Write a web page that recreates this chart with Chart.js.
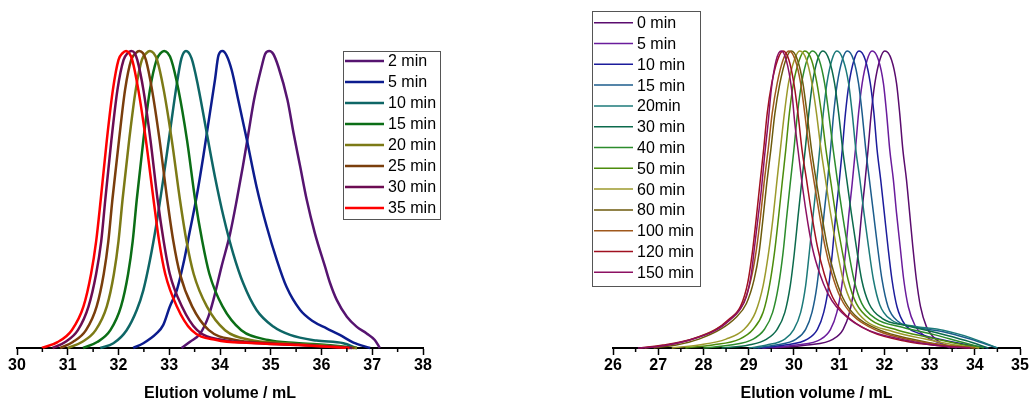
<!DOCTYPE html>
<html>
<head>
<meta charset="utf-8">
<script src="https://cdn.jsdelivr.net/npm/chart.js@4"></script>
<style>
  body { margin: 0; background: #fff; }
  #wrap { position: relative; width: 1030px; height: 403px; }
  canvas { position: absolute; top: 0; }
</style>
</head>
<body>
<div id="wrap">
  <canvas id="leftChart" width="520" height="403" style="left:0"></canvas>
  <canvas id="rightChart" width="510" height="403" style="left:520px"></canvas>
</div>
<script>
// left panel: elution volume (mL) vs normalised signal
const leftLabels = ['2 min', '5 min', '10 min', '15 min', '20 min', '25 min', '30 min', '35 min'];
const leftColors = ['#561470', '#0c1c8e', '#0e6666', '#0b6e16', '#7c7a16', '#7a3e0c', '#6c0c52', '#ff0000'];

const left2 = [[33.24,0],[33.41,0.021],[33.61,0.049],[33.77,0.105],[33.87,0.162],[34.03,0.274],[34.20,0.386],[34.33,0.498],[34.45,0.611],[34.56,0.723],[34.67,0.835],[34.82,0.947],[34.89,0.99],[34.97,1],[35.05,0.99],[35.15,0.947],[35.33,0.835],[35.45,0.723],[35.58,0.611],[35.71,0.498],[35.87,0.386],[36.07,0.274],[36.17,0.218],[36.30,0.162],[36.50,0.105],[36.69,0.072],[36.89,0.049],[37.05,0.027],[37.15,0]];
const left5 = [[32.29,0],[32.49,0.016],[32.75,0.049],[32.88,0.077],[33.01,0.139],[33.15,0.195],[33.28,0.285],[33.41,0.397],[33.54,0.51],[33.67,0.644],[33.80,0.79],[33.90,0.902],[33.97,0.985],[34.05,1],[34.13,0.985],[34.23,0.936],[34.36,0.835],[34.53,0.70],[34.72,0.543],[34.92,0.409],[35.12,0.296],[35.31,0.206],[35.58,0.128],[35.84,0.089],[36.10,0.066],[36.36,0.044],[36.63,0.018],[36.96,0]];
const left10 = [[31.64,0],[31.90,0.016],[32.16,0.06],[32.36,0.128],[32.49,0.195],[32.62,0.296],[32.75,0.42],[32.88,0.566],[33.01,0.723],[33.15,0.89],[33.24,0.975],[33.33,1],[33.44,0.975],[33.57,0.88],[33.74,0.723],[33.90,0.577],[34.07,0.442],[34.26,0.318],[34.46,0.217],[34.72,0.128],[35.05,0.072],[35.38,0.044],[35.90,0.025],[36.43,0.016],[36.69,0]];
const left15 = [[31.30,0],[31.58,0.02],[31.84,0.06],[32.05,0.14],[32.19,0.25],[32.28,0.36],[32.36,0.5],[32.49,0.70],[32.62,0.87],[32.75,0.97],[32.83,0.993],[32.90,1],[32.97,0.993],[33.04,0.97],[33.18,0.87],[33.35,0.70],[33.51,0.5],[33.65,0.36],[33.79,0.25],[34.05,0.14],[34.42,0.06],[34.95,0.027],[35.5,0.017],[36.1,0.01],[36.7,0]];
const left20 = [[31.0,0],[31.28,0.02],[31.55,0.06],[31.77,0.14],[31.91,0.25],[32.00,0.36],[32.08,0.5],[32.21,0.70],[32.34,0.87],[32.46,0.97],[32.55,0.993],[32.62,1],[32.69,0.993],[32.76,0.97],[32.89,0.87],[33.05,0.70],[33.21,0.5],[33.34,0.36],[33.48,0.25],[33.74,0.14],[34.1,0.06],[34.6,0.027],[35.2,0.017],[35.9,0.01],[36.7,0]];
const left25 = [[30.85,0],[31.10,0.02],[31.36,0.06],[31.57,0.14],[31.71,0.25],[31.80,0.36],[31.88,0.5],[32.01,0.70],[32.13,0.87],[32.25,0.97],[32.34,0.993],[32.41,1],[32.48,0.993],[32.54,0.97],[32.66,0.87],[32.81,0.70],[32.96,0.5],[33.08,0.36],[33.21,0.25],[33.45,0.14],[33.78,0.06],[34.3,0.027],[34.9,0.017],[35.7,0.01],[36.65,0]];
const left30 = [[30.70,0],[30.95,0.02],[31.20,0.06],[31.41,0.14],[31.56,0.25],[31.66,0.36],[31.74,0.5],[31.86,0.70],[31.98,0.87],[32.10,0.97],[32.18,0.993],[32.25,1],[32.32,0.993],[32.37,0.97],[32.49,0.87],[32.63,0.70],[32.77,0.5],[32.89,0.36],[33.01,0.25],[33.25,0.14],[33.55,0.06],[34.05,0.027],[34.7,0.017],[35.6,0.01],[36.6,0]];
const left35 = [[30.49,0],[30.80,0.02],[31.08,0.06],[31.31,0.14],[31.46,0.25],[31.56,0.36],[31.65,0.5],[31.77,0.70],[31.89,0.87],[32.00,0.97],[32.08,0.993],[32.15,1],[32.21,0.993],[32.27,0.97],[32.39,0.87],[32.54,0.70],[32.69,0.5],[32.80,0.36],[32.92,0.25],[33.15,0.14],[33.44,0.06],[33.93,0.027],[34.6,0.017],[35.55,0.01],[36.55,0]];
const leftSeries = [left2, left5, left10, left15, left20, left25, left30, left35];
const leftTicks = [30, 38];

// right panel
const rightLabels = ['0 min', '5 min', '10 min', '15 min', '20min', '30 min', '40 min', '50 min', '60 min', '80 min', '100 min', '120 min', '150 min'];
const rightColors = ['#5a0c6e', '#6a1c9c', '#1c1c9c', '#1c5c8c', '#1c7a7a', '#0c6a4c', '#2c8c2c', '#4c8c0c', '#9c9a2c', '#6c5a0c', '#a0581c', '#a01020', '#8c1062'];

const right0 = [[29.5,0],[30.3,0.01],[30.87,0.03],[31.09,0.063],[31.23,0.12],[31.34,0.21],[31.42,0.32],[31.49,0.44],[31.57,0.555],[31.64,0.667],[31.71,0.79],[31.79,0.891],[31.90,0.97],[32.01,1],[32.16,0.97],[32.27,0.891],[32.34,0.79],[32.41,0.667],[32.49,0.566],[32.56,0.454],[32.63,0.341],[32.71,0.229],[32.80,0.139],[32.93,0.072],[33.08,0.038],[33.3,0.012],[33.45,0]];
const right5 = [[29.3,0],[30.05,0.01],[30.6,0.03],[30.81,0.063],[30.95,0.12],[31.06,0.21],[31.14,0.32],[31.21,0.44],[31.29,0.555],[31.36,0.667],[31.43,0.79],[31.51,0.891],[31.62,0.97],[31.73,1],[31.87,0.97],[31.98,0.891],[32.05,0.79],[32.12,0.667],[32.20,0.566],[32.27,0.454],[32.35,0.341],[32.43,0.229],[32.53,0.139],[32.68,0.075],[32.88,0.042],[33.2,0.018],[33.6,0]];
const right10 = [[29.2,0],[29.8,0.01],[30.3,0.03],[30.52,0.063],[30.66,0.12],[30.77,0.21],[30.85,0.32],[30.92,0.44],[31.00,0.555],[31.07,0.667],[31.14,0.79],[31.22,0.891],[31.33,0.97],[31.44,1],[31.58,0.97],[31.69,0.891],[31.77,0.79],[31.84,0.667],[31.92,0.566],[32.00,0.454],[32.08,0.341],[32.17,0.229],[32.28,0.139],[32.45,0.08],[32.75,0.05],[33.2,0.03],[33.8,0.012],[34.3,0]];
const right15 = [[29.1,0],[29.6,0.01],[30.05,0.03],[30.26,0.063],[30.40,0.12],[30.51,0.21],[30.59,0.32],[30.66,0.44],[30.74,0.555],[30.81,0.667],[30.88,0.79],[30.96,0.891],[31.07,0.97],[31.18,1],[31.32,0.97],[31.43,0.891],[31.51,0.79],[31.59,0.667],[31.67,0.566],[31.76,0.454],[31.85,0.341],[31.95,0.229],[32.08,0.14],[32.3,0.09],[32.7,0.07],[33.3,0.055],[33.9,0.03],[34.5,0]];
const right20 = [[29.0,0],[29.4,0.01],[29.8,0.03],[30.0,0.063],[30.15,0.12],[30.26,0.21],[30.34,0.32],[30.42,0.44],[30.50,0.555],[30.57,0.667],[30.65,0.79],[30.73,0.891],[30.84,0.97],[30.95,1],[31.09,0.97],[31.21,0.891],[31.29,0.79],[31.37,0.667],[31.46,0.566],[31.55,0.454],[31.65,0.341],[31.76,0.229],[31.90,0.145],[32.15,0.095],[32.6,0.075],[33.3,0.06],[33.9,0.035],[34.5,0]];
const right30 = [[28.4,0],[29.0,0.01],[29.4,0.03],[29.63,0.063],[29.80,0.12],[29.92,0.21],[30.01,0.32],[30.09,0.44],[30.17,0.555],[30.25,0.667],[30.33,0.79],[30.41,0.891],[30.52,0.97],[30.64,1],[30.78,0.97],[30.90,0.891],[30.99,0.79],[31.08,0.667],[31.17,0.566],[31.27,0.454],[31.38,0.341],[31.50,0.229],[31.66,0.15],[31.95,0.1],[32.5,0.075],[33.2,0.05],[33.8,0.025],[34.3,0]];
const right40 = [[28.0,0],[28.6,0.01],[29.1,0.03],[29.35,0.063],[29.53,0.12],[29.66,0.21],[29.76,0.32],[29.84,0.44],[29.92,0.555],[30.00,0.667],[30.08,0.79],[30.17,0.891],[30.29,0.97],[30.41,1],[30.56,0.97],[30.68,0.891],[30.77,0.79],[30.87,0.667],[30.96,0.566],[31.07,0.454],[31.19,0.341],[31.33,0.229],[31.50,0.15],[31.8,0.1],[32.4,0.07],[33.1,0.045],[33.7,0.02],[34.2,0]];
const right50 = [[27.6,0],[28.2,0.01],[28.8,0.03],[29.1,0.063],[29.32,0.12],[29.46,0.21],[29.57,0.32],[29.66,0.44],[29.74,0.555],[29.82,0.667],[29.90,0.79],[29.99,0.891],[30.12,0.97],[30.24,1],[30.39,0.97],[30.51,0.891],[30.61,0.79],[30.71,0.667],[30.81,0.566],[30.92,0.454],[31.05,0.341],[31.20,0.229],[31.38,0.15],[31.7,0.095],[32.3,0.06],[33.0,0.035],[33.6,0.015],[34.1,0]];
const right60 = [[27.3,0],[27.9,0.01],[28.5,0.03],[28.9,0.063],[29.15,0.12],[29.32,0.21],[29.44,0.32],[29.54,0.44],[29.62,0.555],[29.70,0.667],[29.79,0.79],[29.88,0.891],[30.01,0.97],[30.13,1],[30.28,0.97],[30.40,0.891],[30.50,0.79],[30.60,0.667],[30.70,0.566],[30.81,0.454],[30.94,0.341],[31.09,0.229],[31.28,0.15],[31.6,0.09],[32.2,0.055],[32.9,0.03],[33.5,0.012],[34.1,0]];
const right80 = [[26.9,0],[27.4,0.01],[27.9,0.03],[28.4,0.065],[28.7,0.1],[28.95,0.15],[29.12,0.23],[29.23,0.32],[29.32,0.44],[29.40,0.555],[29.49,0.667],[29.58,0.79],[29.69,0.891],[29.82,0.97],[29.94,1],[30.08,0.97],[30.20,0.891],[30.29,0.79],[30.39,0.667],[30.49,0.566],[30.61,0.454],[30.74,0.341],[30.89,0.25],[31.08,0.17],[31.35,0.11],[31.9,0.06],[32.6,0.03],[33.3,0.01],[34.0,0]];
const right100 = [[26.7,0],[27.2,0.01],[27.75,0.03],[28.3,0.065],[28.62,0.1],[28.88,0.15],[29.05,0.23],[29.16,0.32],[29.26,0.44],[29.34,0.555],[29.43,0.667],[29.52,0.79],[29.63,0.891],[29.76,0.97],[29.89,1],[30.03,0.97],[30.15,0.891],[30.24,0.79],[30.34,0.667],[30.44,0.566],[30.56,0.454],[30.69,0.341],[30.84,0.25],[31.03,0.17],[31.3,0.11],[31.85,0.058],[32.55,0.028],[33.3,0.01],[34.0,0]];
const right120 = [[26.6,0],[27.1,0.01],[27.7,0.028],[28.25,0.06],[28.55,0.095],[28.82,0.14],[28.98,0.22],[29.08,0.32],[29.17,0.44],[29.25,0.555],[29.33,0.667],[29.41,0.79],[29.51,0.891],[29.64,0.97],[29.76,1],[29.89,0.97],[30.00,0.891],[30.09,0.79],[30.18,0.667],[30.28,0.566],[30.39,0.454],[30.52,0.341],[30.67,0.25],[30.86,0.17],[31.15,0.11],[31.7,0.055],[32.5,0.022],[33.2,0.008],[33.9,0]];
const right150 = [[26.55,0],[26.96,0.004],[27.70,0.027],[28.29,0.061],[28.58,0.094],[28.80,0.128],[28.95,0.173],[29.06,0.251],[29.13,0.341],[29.21,0.442],[29.28,0.532],[29.35,0.644],[29.43,0.757],[29.50,0.87],[29.61,0.97],[29.72,1],[29.83,0.97],[29.95,0.87],[30.02,0.757],[30.11,0.644],[30.20,0.532],[30.31,0.42],[30.42,0.33],[30.57,0.251],[30.75,0.184],[30.94,0.139],[31.5,0.07],[32.5,0.025],[33.3,0.006],[33.9,0]];
const rightSeries = [right0, right5, right10, right15, right20, right30, right40, right50, right60, right80, right100, right120, right150];
const rightTicks = [26, 35];

const FONT = "'Liberation Sans', Arial, sans-serif";

// short ticks half way between the labelled ones
const minorTicks = {
  id: 'minorTicks',
  afterDraw(chart) {
    const s = chart.scales.x;
    const ctx = chart.ctx;
    ctx.save();
    ctx.strokeStyle = '#000';
    ctx.lineWidth = 1.5;
    for (let v = s.min + 0.5; v < s.max; v += 1) {
      const px = s.getPixelForValue(v);
      ctx.beginPath();
      ctx.moveTo(px, s.top);
      ctx.lineTo(px, s.top + 4);
      ctx.stroke();
    }
    ctx.restore();
  }
};

// framed legend inside the plot like the original figure
const boxLegend = {
  id: 'boxLegend',
  afterDraw(chart, args, o) {
    const ctx = chart.ctx;
    ctx.save();
    ctx.fillStyle = '#fff';
    ctx.fillRect(o.x, o.y, o.w, o.h);
    ctx.strokeStyle = '#555';
    ctx.lineWidth = 1;
    ctx.strokeRect(o.x + 0.5, o.y + 0.5, o.w, o.h);
    ctx.font = '16px ' + FONT;
    ctx.textBaseline = 'middle';
    chart.data.datasets.forEach((ds, i) => {
      const y = o.y + o.first + i * o.rowH;
      ctx.strokeStyle = ds.borderColor;
      ctx.lineWidth = o.lineWidth;
      ctx.beginPath();
      ctx.moveTo(o.x + 2, y);
      ctx.lineTo(o.x + 41, y);
      ctx.stroke();
      ctx.fillStyle = '#000';
      ctx.fillText(ds.label, o.x + 45, y + 1);
    });
    ctx.restore();
  }
};

function makeChart(id, labels, colors, series, range, lineWidth, padding, legend) {
  const ctx = document.getElementById(id).getContext('2d');
  return new Chart(ctx, {
    type: 'line',
    data: {
      datasets: series.map((pts, i) => ({
        label: labels[i],
        data: pts.map(p => ({ x: p[0], y: p[1] })),
        borderColor: colors[i],
        borderWidth: lineWidth,
        pointRadius: 0,
        cubicInterpolationMode: 'monotone',
        clip: false,
        order: -i
      }))
    },
    options: {
      responsive: false,
      animation: false,
      layout: { padding: padding },
      plugins: {
        legend: { display: false },
        tooltip: { enabled: false },
        boxLegend: legend
      },
      scales: {
        x: {
          type: 'linear',
          min: range[0],
          max: range[1],
          afterFit: (scale) => { scale.height = 55; },
          border: { display: true, color: '#000', width: 2 },
          grid: { drawOnChartArea: false, drawTicks: true, tickLength: 7, tickColor: '#000', tickWidth: 1.5 },
          ticks: {
            stepSize: 1,
            padding: 1,
            color: '#000',
            font: { family: FONT, size: 16, weight: 'bold' }
          },
          title: {
            display: true,
            text: 'Elution volume / mL',
            color: '#000',
            padding: { top: 0, bottom: 0 },
            font: { family: FONT, size: 16, weight: 'bold' }
          }
        },
        y: { display: false, min: 0, max: 1 }
      }
    },
    plugins: [minorTicks, boxLegend]
  });
}

makeChart('leftChart', leftLabels, leftColors, leftSeries, leftTicks, 2.5,
  { left: 17, right: 97, top: 51, bottom: 0 },
  { x: 343, y: 51, w: 97, h: 168, first: 10, rowH: 21, lineWidth: 2.5 });

makeChart('rightChart', rightLabels, rightColors, rightSeries, rightTicks, 1.5,
  { left: 93, right: 10, top: 51, bottom: 0 },
  { x: 72, y: 11, w: 108, h: 275, first: 11.7, rowH: 20.8, lineWidth: 1.5 });
</script>
</body>
</html>
